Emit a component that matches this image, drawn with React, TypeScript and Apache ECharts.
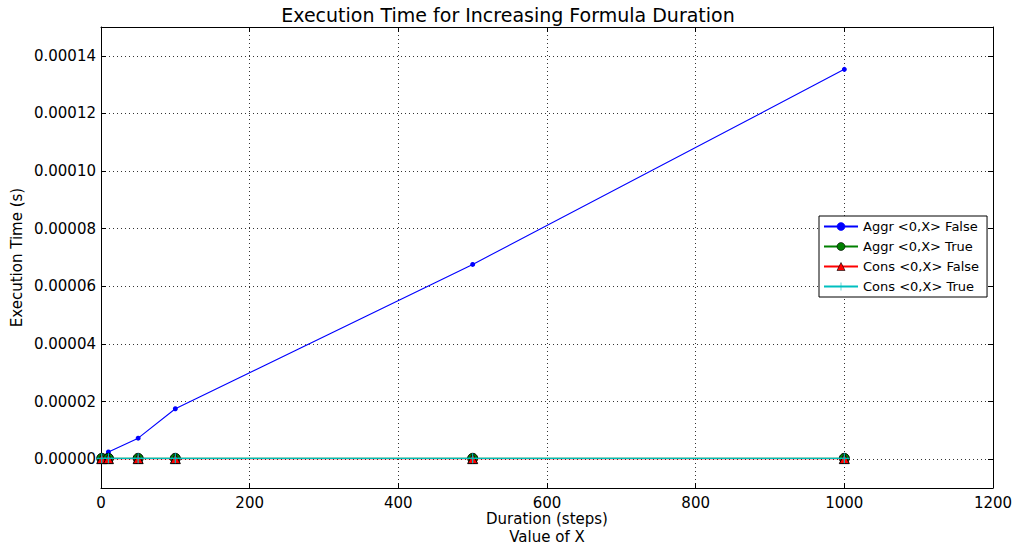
import React, { useEffect, useRef } from "react";
import * as echarts from "echarts";

const xValues = [1, 10, 50, 100, 500, 1000];
const aggrFalse = [5e-7, 2.5e-6, 7.3e-6, 1.75e-5, 6.76e-5, 1.353e-4];
const aggrTrue = [3e-7, 3e-7, 3e-7, 3e-7, 3e-7, 3e-7];
const consFalse = [2e-7, 2e-7, 2e-7, 2e-7, 2e-7, 2e-7];
const consTrue = [3e-7, 3e-7, 3e-7, 3e-7, 3e-7, 3e-7];
const seriesNames = [
  "Aggr <0,X> False",
  "Aggr <0,X> True",
  "Cons <0,X> False",
  "Cons <0,X> True",
];

const FONT = "DejaVu Sans";

export default function App() {
  const ref = useRef<HTMLDivElement>(null);
  useEffect(() => {
    if (!ref.current) return;
    const chart = echarts.init(ref.current, undefined, { renderer: "svg" });
    const pairs = (ys: number[]) => xValues.map((x, i) => [x, ys[i]]);
    const gridLine = { show: true, lineStyle: { color: "#000", width: 0.8, type: [1, 3] as any } };
    const yCommon = {
      type: "value" as const,
      min: -0.00001,
      max: 0.00015,
      splitNumber: 8,
      minInterval: 0.00002,
      maxInterval: 0.00002,
      axisLine: { show: true, onZero: false, lineStyle: { color: "#000", width: 1 } },
      axisTick: { show: true, inside: true, length: 5, lineStyle: { color: "#000" } },
    };
    const xCommon = {
      type: "value" as const,
      min: 0,
      max: 1200,
      interval: 200,
      axisLine: { show: true, onZero: false, lineStyle: { color: "#000", width: 1 } },
      axisTick: { show: true, inside: true, length: 5, lineStyle: { color: "#000" } },
    };
    chart.setOption({
      animation: false,
      backgroundColor: "#fff",
      textStyle: { fontFamily: FONT },
      title: {
        text: "Execution Time for Increasing Formula Duration",
        left: "center",
        top: 0,
        textStyle: { fontFamily: FONT, fontSize: 19, fontWeight: "normal", color: "#000" },
      },
      grid: {
        left: 101,
        right: 23,
        top: 27,
        bottom: 62,
        containLabel: false,
        outerBoundsMode: "none",
      } as any,
      xAxis: [
        {
          ...xCommon,
          position: "bottom",
          name: "Duration (steps)\nValue of X",
          nameLocation: "middle",
          nameGap: 22,
          nameMoveOverlap: false,
          nameTextStyle: { fontFamily: FONT, fontSize: 15, color: "#000", lineHeight: 18 },
          axisLabel: {
            fontFamily: FONT,
            fontSize: 15,
            color: "#000",
            margin: 7,
            formatter: (v: number) => String(v),
          },
          splitLine: gridLine,
        } as any,
        {
          ...xCommon,
          position: "top",
          axisLabel: { show: false },
          splitLine: { show: false },
        },
      ],
      yAxis: [
        {
          ...yCommon,
          position: "left",
          name: "Execution Time (s)",
          nameLocation: "middle",
          nameGap: 77,
          nameMoveOverlap: false,
          nameTextStyle: { fontFamily: FONT, fontSize: 15, color: "#000" },
          axisLabel: {
            fontFamily: FONT,
            fontSize: 15,
            color: "#000",
            margin: 5,
            showMinLabel: false,
            showMaxLabel: false,
            formatter: (v: number) => v.toFixed(5),
          },
          splitLine: gridLine,
        } as any,
        {
          ...yCommon,
          position: "right",
          axisLabel: { show: false },
          splitLine: { show: false },
        },
      ],
      legend: {
        orient: "vertical",
        left: 819,
        top: 216,
        width: 155,
        padding: [4, 8, 4, 4],
        itemGap: 7,
        itemWidth: 34,
        itemHeight: 10,
        borderColor: "#000",
        borderWidth: 1,
        backgroundColor: "#fff",
        itemStyle: { borderWidth: 0.6 },
        textStyle: { fontFamily: FONT, fontSize: 13, color: "#000" },
        data: seriesNames,
      },
      series: [
        {
          name: seriesNames[0],
          type: "line",
          data: pairs(aggrFalse),
          symbol: "circle",
          symbolSize: 5,
          lineStyle: { color: "#0000ff", width: 1.1 },
          itemStyle: { color: "#0000ff", borderColor: "#0000ff", borderWidth: 0 },
          z: 2,
        },
        {
          name: seriesNames[1],
          type: "line",
          data: pairs(aggrTrue),
          symbol: "circle",
          symbolSize: 10,
          lineStyle: { color: "#008000", width: 1.2 },
          itemStyle: { color: "#008000", borderColor: "#000", borderWidth: 1 },
          z: 3,
        },
        {
          name: seriesNames[2],
          type: "line",
          data: pairs(consFalse),
          symbol: "triangle",
          symbolSize: 10,
          lineStyle: { color: "#ff0000", width: 1.2 },
          itemStyle: { color: "#ff0000", borderColor: "#000", borderWidth: 1 },
          z: 4,
        },
        {
          name: seriesNames[3],
          type: "line",
          data: pairs(consTrue),
          symbol: "path://M0,5L10,5M5,0L5,10",
          symbolSize: 10,
          lineStyle: { color: "#00bfbf", width: 1.2 },
          itemStyle: { color: "none", borderColor: "#00bfbf", borderWidth: 1.2 },
          z: 5,
        },
      ],
    });
    return () => chart.dispose();
  }, []);
  return (
    <div
      ref={ref}
      style={{ position: "fixed", left: 0, top: 0, width: 1016, height: 550 }}
    />
  );
}
